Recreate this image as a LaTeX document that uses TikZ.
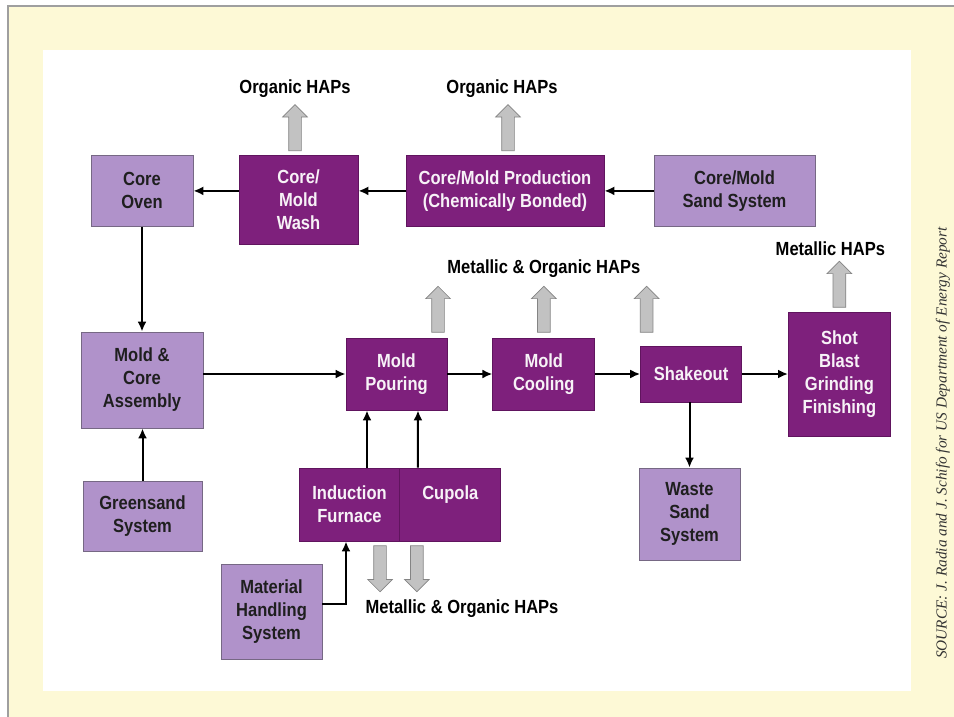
\documentclass[tikz,border=0pt]{standalone}
\usepackage{fontspec}
\setmainfont{Liberation Sans}[FakeStretch=0.87]
\newfontfamily\srcfont{Liberation Serif}
\usetikzlibrary{positioning}
\usetikzlibrary{arrows.meta}
\usetikzlibrary{shapes.arrows}
\definecolor{darkplum}{RGB}{126,32,124}
\definecolor{plumedge}{RGB}{96,20,94}
\definecolor{lilac}{RGB}{176,146,202}
\definecolor{lilacedge}{RGB}{118,104,132}
\definecolor{cream}{RGB}{253,249,214}
\definecolor{hapgrey}{RGB}{194,194,194}
\definecolor{hapedge}{RGB}{132,132,132}
\tikzset{node distance=45pt, % gap between boxes of the main row
every node/.style={font=\fontsize{19}{23}\selectfont\bfseries},
process/.style={ % dark boxes: where HAPs come out
draw=plumedge,
line width=0.8pt,
fill=darkplum,
text=white!94!darkplum,
align=center,
inner sep=0pt},
supply/.style={ % light boxes: sand and material systems
draw=lilacedge,
line width=0.8pt,
fill=lilac,
text=black!88,
align=center,
inner sep=0pt},
flow/.style={ % black process arrows
draw,
-{Latex[length=10pt,width=9pt]},
line width=2pt},
hap/.style={ % grey emission arrows
single arrow,
draw=hapedge,
fill=hapgrey,
line width=0.7pt,
minimum height=46pt,
inner sep=6pt,
single arrow head extend=6pt},
haplabel/.style={inner sep=0pt, text=black}}

\begin{document}
\begin{tikzpicture}[x=1pt, y=-1pt]
% page, frame and white panel
\useasboundingbox (0,0) rectangle (954,717);
\fill[white] (0,0) rectangle (954,717);
\fill[cream] (8,6) rectangle (954,717);
\draw[gray!75, line width=1.2pt] (8,717) -- (8,6) -- (954,6);
\fill[white] (43,50) rectangle (911,691);

% top row
\node[supply, minimum width=102pt, minimum height=71pt, anchor=north] (oven) at (142,155) {Core\\Oven};
\node[process, minimum width=119pt, minimum height=89pt, anchor=north] (wash) at (298.5,155) {Core/\\Mold\\Wash};
\node[process, minimum width=198pt, minimum height=71pt, anchor=north] (prod) at (505,155) {Core/Mold Production\\(Chemically Bonded)};
\node[supply, minimum width=161pt, minimum height=71pt, anchor=north] (sand) at (734.5,155) {Core/Mold\\Sand System};

% main row
\node[supply, minimum width=122pt, minimum height=96pt] (assembly) at (142,380) {Mold \&\\Core\\Assembly};
\node[process, minimum width=101pt, minimum height=72pt] (pouring) at (396.5,374) {Mold\\Pouring};
\node[process, minimum width=102pt, minimum height=72pt, right=of pouring] (cooling) {Mold\\Cooling};
\node[process, minimum width=101pt, minimum height=56pt, right=of cooling] (shakeout) {Shakeout};
\node[process, minimum width=102pt, minimum height=124pt, right=46pt of shakeout] (shot) {Shot\\Blast\\Grinding\\Finishing};

% lower row
\node[supply, minimum width=119pt, minimum height=70pt] (greensand) at (142.5,516) {Greensand\\System};
\node[process, minimum width=101pt, minimum height=73pt] (induction) at (349.5,504.5) {Induction\\Furnace};
\node[process, minimum width=101pt, minimum height=73pt, right=-1pt of induction] (cupola) {Cupola\\\phantom{Furnace}};
\node[supply, minimum width=101pt, minimum height=92pt] (waste) at (689.5,514) {Waste\\Sand\\System};
\node[supply, minimum width=101pt, minimum height=95pt] (material) at (271.5,611.5) {Material\\Handling\\System};

% process flow
\draw[flow] (wash.west |- oven.east) -- (oven.east);
\draw[flow] (prod.west) -- (prod.west -| wash.east);
\draw[flow] (sand.west) -- (prod.east);
\draw[flow] (oven.south) -- (oven.south |- assembly.north);
\draw[flow] (greensand.north) -- (greensand.north |- assembly.south);
\draw[flow] (assembly.east |- pouring.west) -- (pouring.west);
\draw[flow] (pouring) -- (cooling);
\draw[flow] (cooling) -- (shakeout);
\draw[flow] (shakeout) -- (shot);
\draw[flow] (shakeout.south -| waste.north) -- (waste.north);
\draw[flow] ([xshift=17.5pt]induction.north) -- ([xshift=-29.5pt]pouring.south);
\draw[flow] ([xshift=-32.5pt]cupola.north) -- ([xshift=21.5pt]pouring.south);
\draw[flow] ([yshift=8pt]material.east) -| ([xshift=-3.5pt]induction.south);

% HAP emissions
\node[hap, rotate=90, anchor=tail] (washhap) at ([xshift=-3.5pt,yshift=4pt]wash.north) {};
\node[hap, rotate=90, anchor=tail] (prodhap) at ([xshift=3pt,yshift=4pt]prod.north) {};
\node[hap, rotate=90, anchor=tail] (pourhap) at ([xshift=41.5pt,yshift=5pt]pouring.north) {};
\node[hap, rotate=90, anchor=tail] (coolhap) at ([yshift=5pt]cooling.north) {};
\node[hap, rotate=90, anchor=tail] (shakehap) at ([xshift=-44.5pt,yshift=13pt]shakeout.north) {};
\node[hap, rotate=90, anchor=tail] (shothap) at ([yshift=4pt]shot.north) {};
\node[hap, rotate=-90, anchor=tail] (indhap) at ([xshift=30.5pt,yshift=-4pt]induction.south) {};
\node[hap, rotate=-90, anchor=tail] (cuphap) at ([xshift=-33.5pt,yshift=-4pt]cupola.south) {};

\node[haplabel, above=6.5pt of washhap.tip] (washtxt) {Organic HAPs};
\node[haplabel, above=6.5pt of prodhap.tip, xshift=-6pt] (prodtxt) {Organic HAPs};
\node[haplabel, above=8pt of coolhap.tip] (cooltxt) {Metallic \& Organic HAPs};
\node[haplabel, above=5pt of shothap.tip, xshift=-9pt] (shottxt) {Metallic HAPs};
\node[haplabel] (furntxt) at (462,608.5) {Metallic \& Organic HAPs};

% source note
\node[rotate=90, font=\srcfont\itshape\fontsize{15.3}{18}\selectfont, text=black!80] (source) at (943,443) {SOURCE: J. Radia and J. Schifo for US Department of Energy Report};
\end{tikzpicture}
\end{document}
